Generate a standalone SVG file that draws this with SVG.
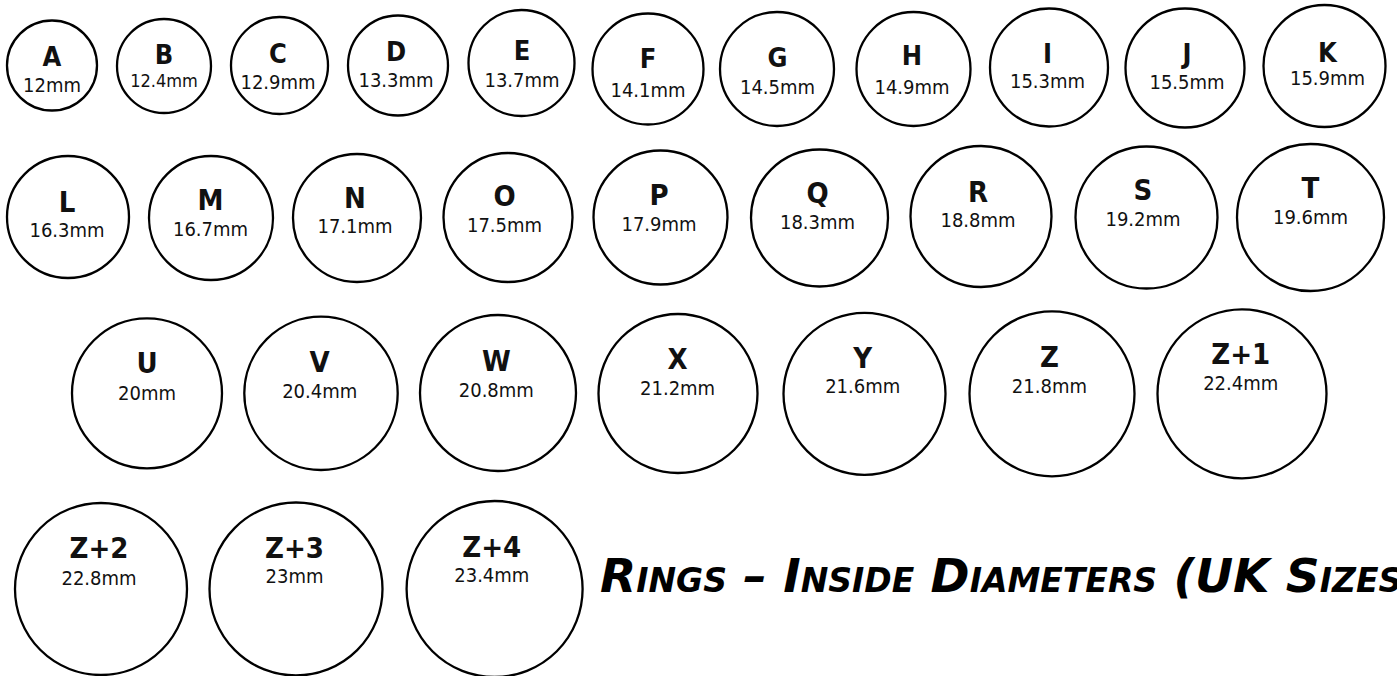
<svg xmlns="http://www.w3.org/2000/svg" width="1397" height="676" viewBox="0 0 1397 676">
<style>
.ring{fill:#fff;stroke:#000;stroke-width:2.3}
.l{font-family:"DejaVu Sans Condensed","DejaVu Sans",sans-serif;font-stretch:condensed;font-weight:bold;font-size:29px;text-anchor:middle;fill:#111}
.r1 .l{font-size:27px}
.m{font-family:"DejaVu Sans Condensed","DejaVu Sans",sans-serif;font-stretch:condensed;font-size:20px;text-anchor:middle;fill:#111}
.title{font-family:"DejaVu Sans","Liberation Sans",sans-serif;font-weight:bold;font-style:oblique;font-variant:small-caps;font-size:47px;fill:#000}
</style>
<rect width="1397" height="676" fill="#fff"/>
<g id="connectors"/>
<g class="r1">
<g id="ring-A"><circle class="ring" cx="52" cy="65.5" r="45"/><text class="l" x="52" y="66">A</text><text class="m" x="52" y="92">12mm</text></g>
<g id="ring-B"><circle class="ring" cx="164" cy="66" r="47"/><text class="l" x="164" y="64">B</text><text class="m" x="164" y="87" style="font-size:18px">12.4mm</text></g>
<g id="ring-C"><circle class="ring" cx="279.5" cy="65.5" r="48.5"/><text class="l" x="278" y="63">C</text><text class="m" x="278" y="89">12.9mm</text></g>
<g id="ring-D"><circle class="ring" cx="398" cy="65.5" r="50"/><text class="l" x="396" y="61">D</text><text class="m" x="396" y="87">13.3mm</text></g>
<g id="ring-E"><circle class="ring" cx="521.5" cy="63" r="53"/><text class="l" x="522" y="60">E</text><text class="m" x="522" y="87">13.7mm</text></g>
<g id="ring-F"><circle class="ring" cx="648" cy="69" r="55.5"/><text class="l" x="648" y="68">F</text><text class="m" x="648" y="97">14.1mm</text></g>
<g id="ring-G"><circle class="ring" cx="777" cy="69" r="57"/><text class="l" x="777.5" y="67">G</text><text class="m" x="777.5" y="94">14.5mm</text></g>
<g id="ring-H"><circle class="ring" cx="913.5" cy="69" r="57"/><text class="l" x="912" y="65">H</text><text class="m" x="912" y="94">14.9mm</text></g>
<g id="ring-I"><circle class="ring" cx="1049" cy="67.5" r="59"/><text class="l" x="1047.5" y="63">I</text><text class="m" x="1047.5" y="88">15.3mm</text></g>
<g id="ring-J"><circle class="ring" cx="1185" cy="68" r="59.5"/><text class="l" x="1187" y="63">J</text><text class="m" x="1187" y="89">15.5mm</text></g>
<g id="ring-K"><circle class="ring" cx="1324.5" cy="66" r="61"/><text class="l" x="1327.5" y="62">K</text><text class="m" x="1327.5" y="85">15.9mm</text></g>
</g>

<g id="ring-L"><circle class="ring" cx="68" cy="217" r="61"/><text class="l" x="67" y="211.7">L</text><text class="m" x="67" y="236.7">16.3mm</text></g>
<g id="ring-M"><circle class="ring" cx="211" cy="218" r="62"/><text class="l" x="210.5" y="210">M</text><text class="m" x="210.5" y="236">16.7mm</text></g>
<g id="ring-N"><circle class="ring" cx="357" cy="218" r="64"/><text class="l" x="355" y="208.3">N</text><text class="m" x="355" y="233.3">17.1mm</text></g>
<g id="ring-O"><circle class="ring" cx="508" cy="217.5" r="64.5"/><text class="l" x="504.5" y="206">O</text><text class="m" x="504.5" y="231.7">17.5mm</text></g>
<g id="ring-P"><circle class="ring" cx="660.5" cy="217.5" r="67"/><text class="l" x="659" y="205">P</text><text class="m" x="659" y="230.7">17.9mm</text></g>
<g id="ring-Q"><circle class="ring" cx="819.5" cy="218" r="68.5"/><text class="l" x="817.5" y="203">Q</text><text class="m" x="817.5" y="229.3">18.3mm</text></g>
<g id="ring-R"><circle class="ring" cx="981" cy="216.5" r="70.5"/><text class="l" x="978" y="201.7">R</text><text class="m" x="978" y="226.7">18.8mm</text></g>
<g id="ring-S"><circle class="ring" cx="1146.5" cy="217.5" r="71"/><text class="l" x="1143" y="200">S</text><text class="m" x="1143" y="226">19.2mm</text></g>
<g id="ring-T"><circle class="ring" cx="1310.5" cy="217.5" r="73.5"/><text class="l" x="1310.5" y="198.3">T</text><text class="m" x="1310.5" y="224">19.6mm</text></g>

<g id="ring-U"><circle class="ring" cx="147" cy="393.3" r="75"/><text class="l" x="147" y="373.3">U</text><text class="m" x="147" y="400">20mm</text></g>
<g id="ring-V"><circle class="ring" cx="321" cy="393.3" r="76.7"/><text class="l" x="319.7" y="371.7">V</text><text class="m" x="319.7" y="398.3">20.4mm</text></g>
<g id="ring-W"><circle class="ring" cx="498" cy="393" r="78"/><text class="l" x="496.3" y="370.7">W</text><text class="m" x="496.3" y="397.3">20.8mm</text></g>
<g id="ring-X"><circle class="ring" cx="678" cy="393.5" r="79.5"/><text class="l" x="677.6" y="369.3">X</text><text class="m" x="677.6" y="395">21.2mm</text></g>
<g id="ring-Y"><circle class="ring" cx="864.5" cy="393.8" r="81"/><text class="l" x="862.7" y="368.3">Y</text><text class="m" x="862.7" y="393.3">21.6mm</text></g>
<g id="ring-Z"><circle class="ring" cx="1052" cy="393.8" r="82.5"/><text class="l" x="1049.4" y="366.7">Z</text><text class="m" x="1049.4" y="393.3">21.8mm</text></g>
<g id="ring-Z1"><circle class="ring" cx="1242" cy="393.8" r="84.5"/><text class="l" x="1240.7" y="364">Z+1</text><text class="m" x="1240.7" y="390">22.4mm</text></g>

<g id="ring-Z2"><circle class="ring" cx="101" cy="589" r="86"/><text class="l" x="99" y="558.3">Z+2</text><text class="m" x="99" y="585">22.8mm</text></g>
<g id="ring-Z3"><circle class="ring" cx="296" cy="589" r="86.5"/><text class="l" x="294.5" y="558.3">Z+3</text><text class="m" x="294.5" y="583.3">23mm</text></g>
<g id="ring-Z4"><circle class="ring" cx="494.6" cy="589" r="88"/><text class="l" x="491.8" y="556.7">Z+4</text><text class="m" x="491.8" y="581.7">23.4mm</text></g>

<g id="title"><text class="title" x="600" y="592">Rings – Inside Diameters (UK Sizes)</text></g>
</svg>
